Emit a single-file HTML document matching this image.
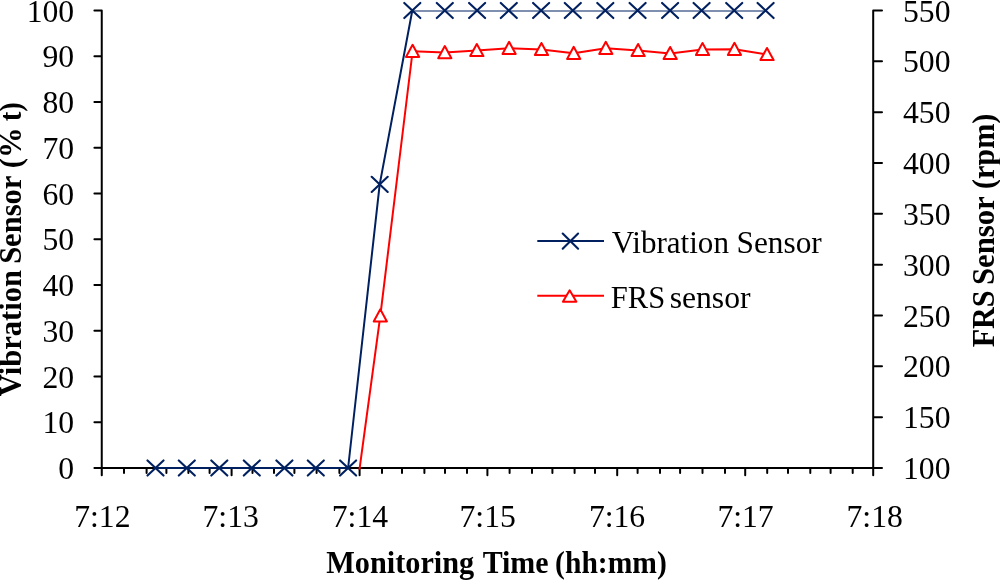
<!DOCTYPE html><html><head><meta charset="utf-8"><title>Vibration and FRS sensor chart</title><style>html,body{margin:0;padding:0;background:#fff;width:1000px;height:580px;overflow:hidden}svg{display:block}text{font-family:"Liberation Serif","Times New Roman",serif;fill:#000}</style></head><body>
<svg width="1000" height="580" viewBox="0 0 1000 580">
<defs><clipPath id="pa"><rect x="101.75" y="10.50" width="771.45" height="459.30"/></clipPath></defs>
<path d="M101.75 10.50V475.30M873.20 10.50V475.30M94.40 468.00H873.20M94.40 468.00H101.75M94.40 422.25H101.75M94.40 376.50H101.75M94.40 330.75H101.75M94.40 285.00H101.75M94.40 239.25H101.75M94.40 193.50H101.75M94.40 147.75H101.75M94.40 102.00H101.75M94.40 56.25H101.75M94.40 10.50H101.75M873.20 468.00H882.00M873.20 417.17H882.00M873.20 366.33H882.00M873.20 315.50H882.00M873.20 264.67H882.00M873.20 213.83H882.00M873.20 163.00H882.00M873.20 112.17H882.00M873.20 61.33H882.00M873.20 10.50H882.00M101.80 468.00V475.30M124.00 468.00V473.00M146.60 468.00V473.00M166.40 468.00V473.00M188.40 468.00V473.00M209.60 468.00V473.00M231.60 468.00V475.30M252.50 468.00V473.00M274.00 468.00V473.00M294.40 468.00V473.00M316.60 468.00V473.00M339.40 468.00V473.00M359.60 468.00V475.30M382.00 468.00V473.00M402.00 468.00V473.00M424.40 468.00V473.00M445.00 468.00V473.00M467.00 468.00V473.00M487.40 468.00V475.30M509.60 468.00V473.00M532.00 468.00V473.00M552.40 468.00V473.00M574.60 468.00V473.00M595.00 468.00V473.00M617.20 468.00V475.30M637.60 468.00V473.00M660.00 468.00V473.00M680.10 468.00V473.00M702.50 468.00V473.00M725.00 468.00V473.00M745.20 468.00V475.30M767.20 468.00V473.00M788.00 468.00V473.00M810.30 468.00V473.00M830.60 468.00V473.00M852.70 468.00V473.00" stroke="#000" stroke-width="2" fill="none" stroke-linecap="round"/>
<g clip-path="url(#pa)">
<polyline points="155.50,468.00 186.80,468.00 219.30,468.00 251.80,468.00 284.40,468.00 315.80,468.00 348.10,468.00 379.70,184.35 412.30,10.50 444.80,10.50 477.10,10.50 508.80,10.50 541.10,10.50 572.80,10.50 605.30,10.50 637.60,10.50 670.10,10.50 701.60,10.50 734.20,10.50 765.60,10.50" fill="none" stroke="#002060" stroke-width="2" stroke-linejoin="round"/>
<polyline points="348.10,553.40 380.30,315.80 412.60,51.25 444.80,52.50 476.80,50.45 509.10,48.30 541.45,49.40 573.70,53.30 605.80,48.30 638.10,50.45 670.15,53.40 702.50,49.40 734.45,49.30 767.00,54.40" fill="none" stroke="#ff0000" stroke-width="2" stroke-linejoin="round"/>
</g>
<path d="M147.50 460.40l16.00 15.20M147.50 475.60l16.00 -15.20M178.80 460.40l16.00 15.20M178.80 475.60l16.00 -15.20M211.30 460.40l16.00 15.20M211.30 475.60l16.00 -15.20M243.80 460.40l16.00 15.20M243.80 475.60l16.00 -15.20M276.40 460.40l16.00 15.20M276.40 475.60l16.00 -15.20M307.80 460.40l16.00 15.20M307.80 475.60l16.00 -15.20M340.10 460.40l16.00 15.20M340.10 475.60l16.00 -15.20M371.70 176.75l16.00 15.20M371.70 191.95l16.00 -15.20M404.30 2.90l16.00 15.20M404.30 18.10l16.00 -15.20M436.80 2.90l16.00 15.20M436.80 18.10l16.00 -15.20M469.10 2.90l16.00 15.20M469.10 18.10l16.00 -15.20M500.80 2.90l16.00 15.20M500.80 18.10l16.00 -15.20M533.10 2.90l16.00 15.20M533.10 18.10l16.00 -15.20M564.80 2.90l16.00 15.20M564.80 18.10l16.00 -15.20M597.30 2.90l16.00 15.20M597.30 18.10l16.00 -15.20M629.60 2.90l16.00 15.20M629.60 18.10l16.00 -15.20M662.10 2.90l16.00 15.20M662.10 18.10l16.00 -15.20M693.60 2.90l16.00 15.20M693.60 18.10l16.00 -15.20M726.20 2.90l16.00 15.20M726.20 18.10l16.00 -15.20M757.60 2.90l16.00 15.20M757.60 18.10l16.00 -15.20" stroke="#002060" stroke-width="2.1" stroke-linecap="round" fill="none"/>
<path d="M380.30 309.35L386.90 321.45L373.70 321.45ZM412.60 44.80L419.20 56.90L406.00 56.90ZM444.80 46.05L451.40 58.15L438.20 58.15ZM476.80 44.00L483.40 56.10L470.20 56.10ZM509.10 41.85L515.70 53.95L502.50 53.95ZM541.45 42.95L548.05 55.05L534.85 55.05ZM573.70 46.85L580.30 58.95L567.10 58.95ZM605.80 41.85L612.40 53.95L599.20 53.95ZM638.10 44.00L644.70 56.10L631.50 56.10ZM670.15 46.95L676.75 59.05L663.55 59.05ZM702.50 42.95L709.10 55.05L695.90 55.05ZM734.45 42.85L741.05 54.95L727.85 54.95ZM767.00 47.95L773.60 60.05L760.40 60.05Z" stroke="#ff0000" stroke-width="2" fill="#fff" stroke-linejoin="round"/>
<text transform="translate(74.20 479.00) scale(0.9900 1)" font-size="32.00" text-anchor="end">0</text>
<text transform="translate(74.20 433.25) scale(0.9900 1)" font-size="32.00" text-anchor="end">10</text>
<text transform="translate(74.20 387.50) scale(0.9900 1)" font-size="32.00" text-anchor="end">20</text>
<text transform="translate(74.20 341.75) scale(0.9900 1)" font-size="32.00" text-anchor="end">30</text>
<text transform="translate(74.20 296.00) scale(0.9900 1)" font-size="32.00" text-anchor="end">40</text>
<text transform="translate(74.20 250.25) scale(0.9900 1)" font-size="32.00" text-anchor="end">50</text>
<text transform="translate(74.20 204.50) scale(0.9900 1)" font-size="32.00" text-anchor="end">60</text>
<text transform="translate(74.20 158.75) scale(0.9900 1)" font-size="32.00" text-anchor="end">70</text>
<text transform="translate(74.20 113.00) scale(0.9900 1)" font-size="32.00" text-anchor="end">80</text>
<text transform="translate(74.20 67.25) scale(0.9900 1)" font-size="32.00" text-anchor="end">90</text>
<text transform="translate(74.20 21.50) scale(0.9900 1)" font-size="32.00" text-anchor="end">100</text>
<text transform="translate(903.00 479.00) scale(0.9900 1)" font-size="32.00">100</text>
<text transform="translate(903.00 428.17) scale(0.9900 1)" font-size="32.00">150</text>
<text transform="translate(903.00 377.33) scale(0.9900 1)" font-size="32.00">200</text>
<text transform="translate(903.00 326.50) scale(0.9900 1)" font-size="32.00">250</text>
<text transform="translate(903.00 275.67) scale(0.9900 1)" font-size="32.00">300</text>
<text transform="translate(903.00 224.83) scale(0.9900 1)" font-size="32.00">350</text>
<text transform="translate(903.00 174.00) scale(0.9900 1)" font-size="32.00">400</text>
<text transform="translate(903.00 123.17) scale(0.9900 1)" font-size="32.00">450</text>
<text transform="translate(903.00 72.33) scale(0.9900 1)" font-size="32.00">500</text>
<text transform="translate(903.00 21.50) scale(0.9900 1)" font-size="32.00">550</text>
<text transform="translate(102.35 527.00) scale(0.9900 1)" font-size="32.00" text-anchor="middle">7:12</text>
<text transform="translate(230.65 527.00) scale(0.9900 1)" font-size="32.00" text-anchor="middle">7:13</text>
<text transform="translate(359.90 527.00) scale(0.9900 1)" font-size="32.00" text-anchor="middle">7:14</text>
<text transform="translate(487.65 527.00) scale(0.9900 1)" font-size="32.00" text-anchor="middle">7:15</text>
<text transform="translate(617.05 527.00) scale(0.9900 1)" font-size="32.00" text-anchor="middle">7:16</text>
<text transform="translate(745.55 527.00) scale(0.9900 1)" font-size="32.00" text-anchor="middle">7:17</text>
<text transform="translate(874.65 527.00) scale(0.9900 1)" font-size="32.00" text-anchor="middle">7:18</text>
<text transform="translate(326.13 573.40) scale(0.9716 1)" font-size="31.20" font-weight="bold">Monitoring</text>
<text transform="translate(482.63 573.40) scale(0.9597 1)" font-size="31.20" font-weight="bold">Time</text>
<text transform="translate(555.11 573.40) scale(0.9483 1)" font-size="31.20" font-weight="bold">(hh:mm)</text>
<text transform="translate(20.80 396.14) rotate(-90) scale(0.9788 1)" font-size="31.20" font-weight="bold">Vibration</text>
<text transform="translate(20.80 263.87) rotate(-90) scale(0.9795 1)" font-size="31.20" font-weight="bold">Sensor</text>
<text transform="translate(20.80 168.34) rotate(-90) scale(0.9841 1)" font-size="31.20" font-weight="bold">(%</text>
<text transform="translate(20.80 121.25) rotate(-90) scale(0.9257 1)" font-size="31.20" font-weight="bold">t)</text>
<text transform="translate(994.00 347.37) rotate(-90) scale(0.9652 1)" font-size="31.20" font-weight="bold">FRS</text>
<text transform="translate(994.00 285.08) rotate(-90) scale(0.9846 1)" font-size="31.20" font-weight="bold">Sensor</text>
<text transform="translate(994.00 189.12) rotate(-90) scale(0.9690 1)" font-size="31.20" font-weight="bold">(rpm)</text>
<path d="M537.3 241.1H604" stroke="#002060" stroke-width="2"/>
<path d="M562.70 233.50l15.40 15.20M562.70 248.70l15.40 -15.20" stroke="#002060" stroke-width="2.1" stroke-linecap="round"/>
<path d="M537.3 295.85H604" stroke="#ff0000" stroke-width="2"/>
<path d="M569.65 290.3L576.4 301.7L562.9 301.7Z" stroke="#ff0000" stroke-width="2" fill="#fff" stroke-linejoin="round"/>
<text transform="translate(611.66 253.00) scale(0.9597 1)" font-size="32.40">Vibration</text>
<text transform="translate(736.52 253.00) scale(0.9668 1)" font-size="32.40">Sensor</text>
<text transform="translate(610.76 308.00) scale(0.9431 1)" font-size="32.40">FRS</text>
<text transform="translate(669.68 308.00) scale(0.9772 1)" font-size="32.40">sensor</text>
</svg></body></html>
